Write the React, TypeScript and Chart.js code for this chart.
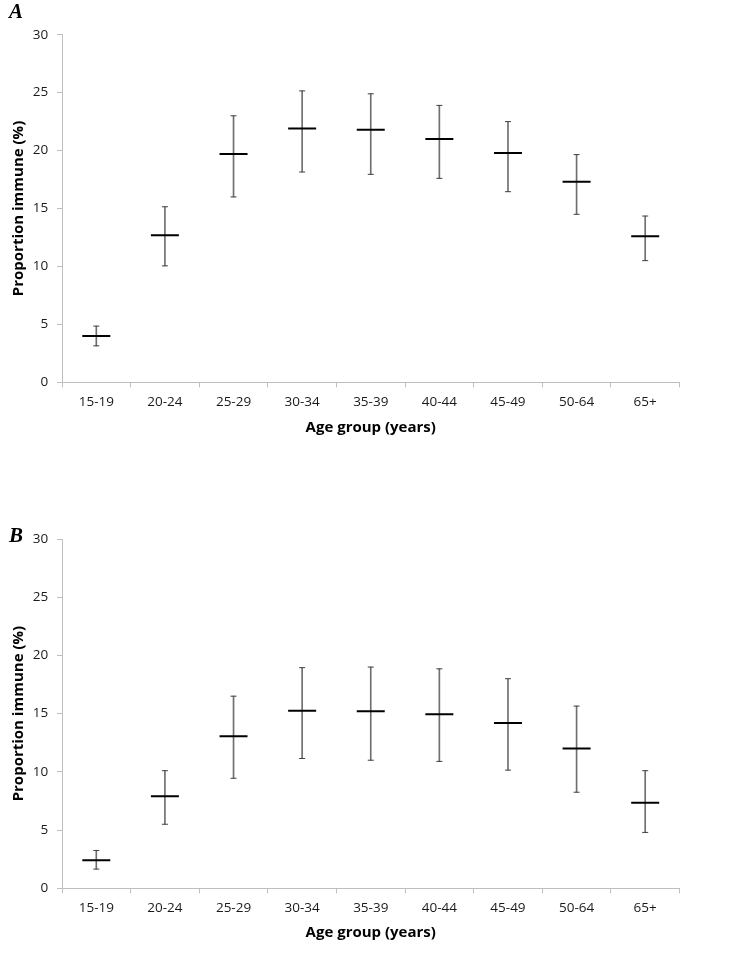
import React, { useEffect, useRef } from 'react';
import { Chart, registerables } from 'chart.js';

Chart.register(...registerables);

const categories = ['15-19', '20-24', '25-29', '30-34', '35-39', '40-44', '45-49', '50-64', '65+'];

const meanA = [4.0, 12.7, 19.7, 21.9, 21.8, 21.0, 19.8, 17.3, 12.6];
const lowA = [3.15, 10.05, 16.0, 18.15, 17.95, 17.6, 16.45, 14.5, 10.5];
const highA = [4.85, 15.15, 23.0, 25.15, 24.9, 23.9, 22.5, 19.65, 14.35];

const meanB = [2.4, 7.9, 13.05, 15.25, 15.2, 14.95, 14.2, 12.0, 7.35];
const lowB = [1.65, 5.5, 9.45, 11.15, 11.0, 10.9, 10.15, 8.25, 4.8];
const highB = [3.25, 10.1, 16.5, 18.95, 19.0, 18.85, 18.0, 15.65, 10.1];

const yTicks = [0, 5, 10, 15, 20, 25, 30];

const xTitle = 'Age group (years)';
const yTitle = 'Proportion immune (%)';

const FONT = "'Open Sans', sans-serif";
const AXIS_COLOR = '#bfbfbf';
const TITLE_SIZE = 15;
const TITLE_LH = TITLE_SIZE * 1.2;

type PanelProps = {
  top: number;
  height: number;
  plotTop: number;
  plotBottom: number;
  titleY: number;
  labelTop: number;
  low: number[];
  mean: number[];
  high: number[];
  label: string;
};

function Panel({ top, height, plotTop, plotBottom, titleY, labelTop, low, mean, high, label }: PanelProps) {
  const ref = useRef<HTMLCanvasElement | null>(null);

  useEffect(() => {
    if (!ref.current) return;
    const chartBottom = plotBottom - top;
    const xHeight = height - chartBottom;
    const titlePadBottom = height - (titleY - top) - TITLE_LH / 2;
    const chart = new Chart(ref.current, {
      type: 'bar',
      data: {
        labels: categories,
        datasets: [
          {
            type: 'bar',
            data: low.map((l, i) => [l, high[i]]) as any,
            backgroundColor: '#6f6f6f',
            barThickness: 1,
            order: 3,
          },
          {
            type: 'line',
            data: high,
            showLine: false,
            pointStyle: 'line',
            pointRadius: 3,
            pointBorderWidth: 1,
            borderColor: '#404040',
            backgroundColor: '#404040',
            order: 2,
          },
          {
            type: 'line',
            data: low,
            showLine: false,
            pointStyle: 'line',
            pointRadius: 3,
            pointBorderWidth: 1,
            borderColor: '#404040',
            backgroundColor: '#404040',
            order: 2,
          },
          {
            type: 'line',
            data: mean,
            showLine: false,
            pointStyle: 'line',
            pointRadius: 14,
            pointBorderWidth: 2,
            borderColor: '#000000',
            backgroundColor: '#000000',
            order: 1,
          },
        ],
      } as any,
      options: {
        animation: false,
        responsive: true,
        maintainAspectRatio: false,
        layout: { padding: { top: plotTop - top, right: 745 - 679.5, bottom: 0, left: 0 } },
        plugins: { legend: { display: false }, tooltip: { enabled: false } },
        scales: {
          x: {
            offset: true,
            afterFit: (s: any) => { s.height = xHeight; },
            grid: {
              offset: true,
              drawOnChartArea: false,
              drawTicks: true,
              tickLength: 5,
              color: AXIS_COLOR,
            },
            border: { color: AXIS_COLOR },
            ticks: { color: '#1a1a1a', font: { family: FONT, size: 13.5 }, padding: 7, maxRotation: 0 },
            title: {
              display: true,
              text: xTitle,
              color: '#000',
              font: { family: FONT, size: TITLE_SIZE, weight: 'bold' },
              padding: { top: 0, bottom: titlePadBottom },
            },
          },
          y: {
            min: 0,
            max: 30,
            afterFit: (s: any) => { s.width = 62; },
            afterBuildTicks: (s: any) => { s.ticks = yTicks.map((v) => ({ value: v })); },
            grid: {
              drawOnChartArea: false,
              drawTicks: true,
              tickLength: 5,
              color: AXIS_COLOR,
            },
            border: { color: AXIS_COLOR },
            ticks: { color: '#1a1a1a', font: { family: FONT, size: 13.5 }, padding: 8.7 },
            title: {
              display: true,
              text: yTitle,
              color: '#000',
              font: { family: FONT, size: TITLE_SIZE, weight: 'bold' },
              padding: { top: 19 - TITLE_LH / 2, bottom: 0 },
            },
          },
        },
      } as any,
    });
    return () => chart.destroy();
  }, []);

  return (
    <div style={{ position: 'absolute', left: 0, top, width: 745, height }}>
      <canvas ref={ref} />
      <span
        style={{
          position: 'absolute',
          left: 9,
          top: labelTop - top,
          font: "bold italic 21px 'Liberation Serif', serif",
          lineHeight: '21px',
          color: '#000',
        }}
      >
        {label}
      </span>
    </div>
  );
}

export default function App() {
  return (
    <div style={{ position: 'absolute', left: 0, top: 0, width: 745, height: 960, background: '#fff' }}>
      <Panel top={0} height={470} plotTop={34.7} plotBottom={382.3} titleY={427.3} labelTop={1.3} low={lowA} mean={meanA} high={highA} label="A" />
      <Panel top={480} height={480} plotTop={539} plotBottom={888.3} titleY={932.3} labelTop={524.6} low={lowB} mean={meanB} high={highB} label="B" />
    </div>
  );
}
